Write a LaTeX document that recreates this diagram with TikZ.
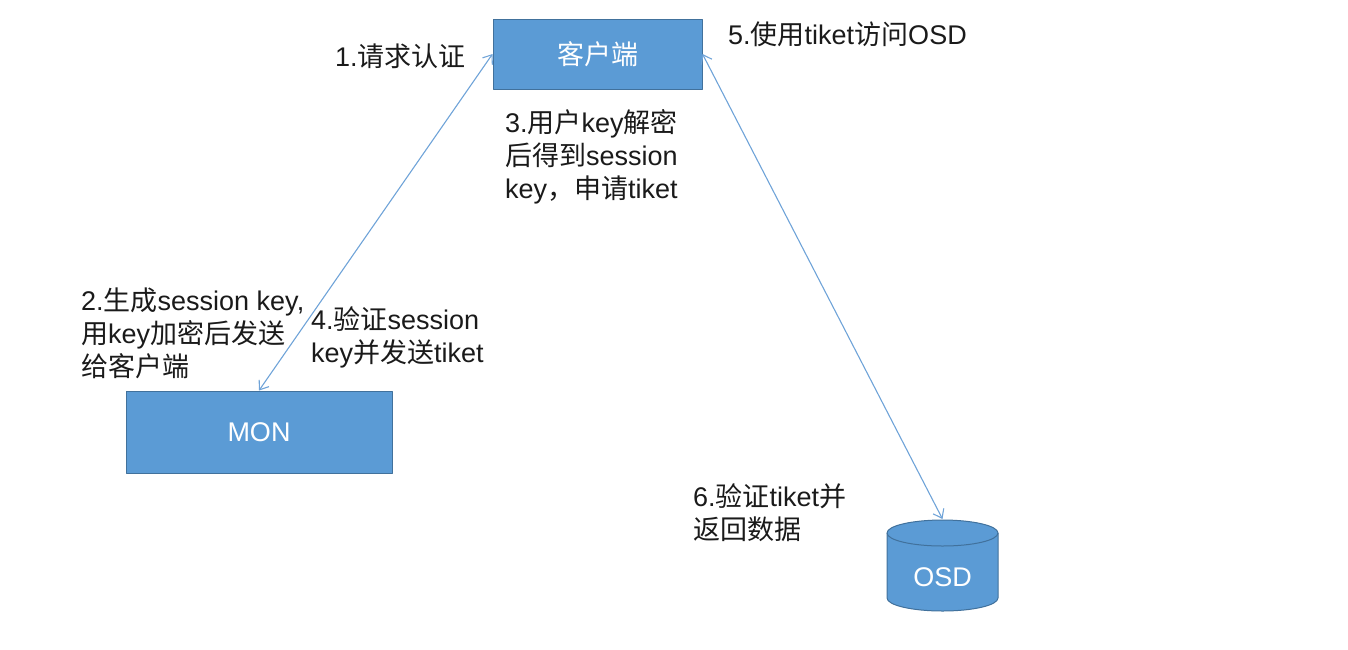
\documentclass[tikz,border=0pt]{standalone}
\usepackage{fontspec}
\setmainfont{Liberation Sans}
\newfontfamily\cjk{Noto Sans CJK SC}
\usetikzlibrary{arrows.meta}
\definecolor{boxfill}{HTML}{5B9BD5}
\definecolor{boxline}{HTML}{41719C}
\definecolor{arrowc}{HTML}{6FA3D8}
\definecolor{txt}{HTML}{1A1A1A}
\begin{document}
\begin{tikzpicture}[x=1pt,y=-1pt,line join=round,
  box/.style={draw=boxline,line width=1pt,fill=boxfill,text=white,inner sep=0pt,
    font=\fontsize{27}{32}\selectfont},
  lbl/.style={text=txt,inner sep=0pt,align=left,font=\fontsize{27}{33}\selectfont},
  conn/.style={draw=arrowc,line width=1.1pt,{Straight Barb[length=8pt,width=12pt]}-{Straight Barb[length=8pt,width=12pt]}}]
\useasboundingbox (0,0) rectangle (1348,649);
\node[box,minimum width=209pt,minimum height=70pt] (client) at (597.5,54) {{\cjk 客户端}};
\node[box,minimum width=266pt,minimum height=82pt] (mon) at (259,432) {MON};
% OSD cylinder
\filldraw[draw=boxline,line width=1pt,fill=boxfill]
  (887,533) -- (887,598) arc[start angle=180,end angle=0,x radius=55.5,y radius=13] -- (998,533)
  arc[start angle=0,end angle=-180,x radius=55.5,y radius=13] -- cycle;
\draw[boxline,line width=1pt] (887,533) arc[start angle=180,end angle=0,x radius=55.5,y radius=13];
\node[text=white,inner sep=0pt,font=\fontsize{27}{32}\selectfont] (osd) at (942.5,577) {OSD};
\coordinate (osdtop) at (942.5,519);
\draw[conn] (mon.north) -- (client.west);
\draw[conn] (client.east) -- (osdtop);
\node[lbl,anchor=west] (l1) at (335,56) {1.{\cjk 请求认证}};
\node[lbl,anchor=west] (l5) at (728,34) {5.{\cjk 使用}tiket{\cjk 访问}OSD};
\node[lbl,anchor=north west] (l3) at (505,109) {3.{\cjk 用户}key{\cjk 解密}\\{\cjk 后得到}session\\key{\cjk ，申请}tiket};
\node[lbl,anchor=north west] (l2) at (81,288) {2.{\cjk 生成}session key,\\{\cjk 用}key{\cjk 加密后发送}\\{\cjk 给客户端}};
\node[lbl,anchor=north west] (l4) at (311,306) {4.{\cjk 验证}session\\key{\cjk 并发送}tiket};
\node[lbl,anchor=north west] (l6) at (693,483) {6.{\cjk 验证}tiket{\cjk 并}\\{\cjk 返回数据}};
\end{tikzpicture}
\end{document}
